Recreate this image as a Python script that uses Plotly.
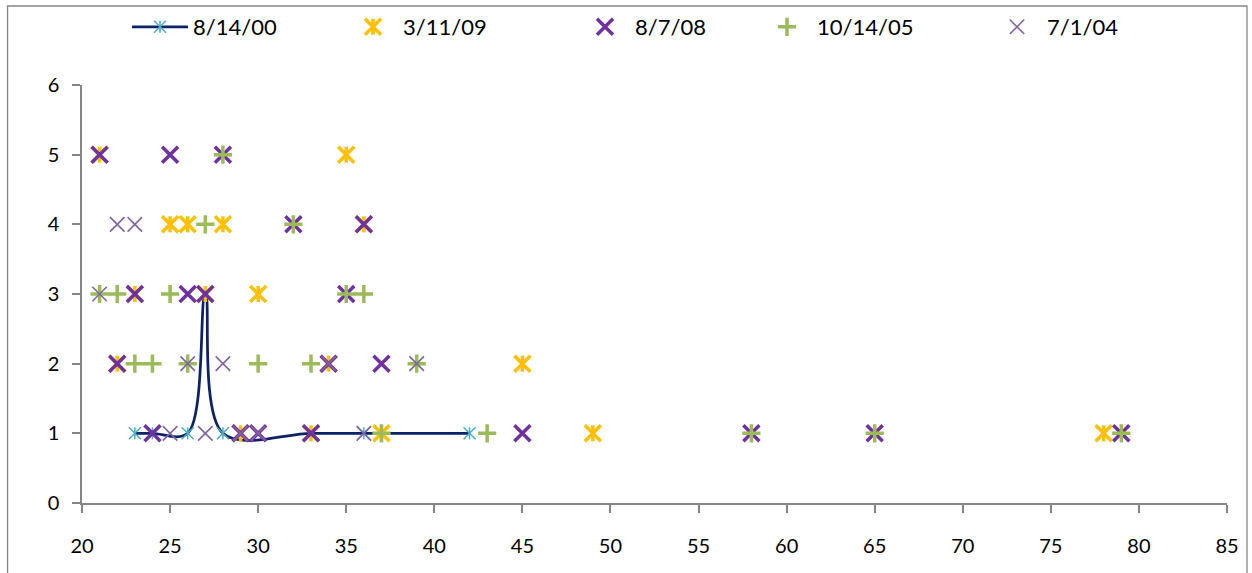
import plotly.graph_objects as go

# ---- data: (age, count) pairs per survey date ----
s1_name = "8/14/00"
s1_x = [23, 24, 26, 27, 28, 33, 36, 42]
s1_y = [1, 1, 1, 3, 1, 1, 1, 1]

s2_name = "3/11/09"
s2_x = [29, 33, 37, 49, 78, 22, 34, 45, 23, 27, 30, 25, 26, 28, 36, 21, 35]
s2_y = [1, 1, 1, 1, 1, 2, 2, 2, 3, 3, 3, 4, 4, 4, 4, 5, 5]

s3_name = "8/7/08"
s3_x = [24, 29, 30, 33, 45, 58, 65, 79, 22, 34, 37, 23, 26, 27, 35, 32, 36, 21, 25, 28]
s3_y = [1, 1, 1, 1, 1, 1, 1, 1, 2, 2, 2, 3, 3, 3, 3, 4, 4, 5, 5, 5]

s4_name = "10/14/05"
s4_x = [37, 43, 58, 65, 79, 23, 24, 26, 30, 33, 39, 21, 22, 25, 35, 36, 27, 32, 28]
s4_y = [1, 1, 1, 1, 1, 2, 2, 2, 2, 2, 2, 3, 3, 3, 3, 3, 4, 4, 5]

s5_name = "7/1/04"
s5_x = [25, 27, 29, 30, 36, 26, 28, 34, 39, 21, 22, 23]
s5_y = [1, 1, 1, 1, 1, 2, 2, 2, 2, 3, 4, 4]

x_ticks = list(range(20, 90, 5))
y_ticks = list(range(0, 7))

NAVY = "#0B2366"
CYAN = "#4BACC6"
GOLD = "#FFC000"
PURPLE = "#7030A0"
GREEN = "#9BBB59"
LILAC = "#8064A2"
AXIS = "#868686"
FONT = "Lato, Arial, sans-serif"

# plot-area geometry (pixels) used to place the legends and frame
W, H = 1252, 573
L, R, T, B = 81.5, 1227.0, 85.0, 503.0


def px_x(px):
    return (px - L) / (R - L)


def px_y(py):
    return (B - py) / (B - T)


def open_marker(symbol, size, color, width):
    return dict(symbol=symbol, size=size, color=color,
                line=dict(color=color, width=width))


# star = x plus a vertical bar; line-ns is 1.4x taller than x-thin at equal size
def star_bar(size):
    return size / 1.4


fig = go.Figure()

# 8/14/00: smoothed line, star markers
fig.add_trace(go.Scatter(
    x=s1_x, y=s1_y, name=s1_name, mode="lines+markers",
    line=dict(color=NAVY, width=2.75, shape="spline", smoothing=1.0),
    marker=open_marker("x-thin-open", 12, CYAN, 1.5),
    legend="legend",
))
fig.add_trace(go.Scatter(
    x=s1_x, y=s1_y, name=" ", mode="markers",
    marker=open_marker("line-ns-open", star_bar(12), CYAN, 1.5),
    legend="legend6",
))

# 3/11/09: bold star markers
fig.add_trace(go.Scatter(
    x=s2_x, y=s2_y, name=s2_name, mode="markers",
    marker=open_marker("x-thin-open", 16, GOLD, 3.5),
    legend="legend2",
))
fig.add_trace(go.Scatter(
    x=s2_x, y=s2_y, name=" ", mode="markers",
    marker=open_marker("line-ns-open", star_bar(16), GOLD, 3.5),
    legend="legend7",
))

# 8/7/08: bold x markers
fig.add_trace(go.Scatter(
    x=s3_x, y=s3_y, name=s3_name, mode="markers",
    marker=open_marker("x-thin-open", 16, PURPLE, 3.5),
    legend="legend3",
))

# 10/14/05: plus markers
fig.add_trace(go.Scatter(
    x=s4_x, y=s4_y, name=s4_name, mode="markers",
    marker=open_marker("cross-thin-open", 13, GREEN, 3.5),
    legend="legend4",
))

# 7/1/04: thin x markers
fig.add_trace(go.Scatter(
    x=s5_x, y=s5_y, name=s5_name, mode="markers",
    marker=open_marker("x-thin-open", 14.5, LILAC, 1.6),
    legend="legend5",
))

legend_font = dict(family=FONT, size=22, color="#000000")


def legend_at(px_left, itemwidth=50):
    return dict(
        x=px_left / W, y=1 - 27 / H, xref="container", yref="container",
        xanchor="left", yanchor="middle",
        orientation="h", bgcolor="rgba(0,0,0,0)", borderwidth=0,
        font=legend_font, itemwidth=itemwidth, itemclick=False,
        itemdoubleclick=False,
    )


fig.update_layout(
    width=W, height=H,
    margin=dict(l=L, r=W - R, t=T, b=H - B, pad=0, autoexpand=False),
    paper_bgcolor="#FFFFFF", plot_bgcolor="#FFFFFF",
    font=dict(family=FONT, size=20, color="#000000"),
    showlegend=True,
    legend=legend_at(127, itemwidth=56),
    legend2=legend_at(343),
    legend3=legend_at(575),
    legend4=legend_at(757),
    legend5=legend_at(987),
    legend6=legend_at(127, itemwidth=56),
    legend7=legend_at(343),
    xaxis=dict(
        range=[20, 85], tickmode="array", tickvals=x_ticks,
        showgrid=False, zeroline=False, showline=True,
        linecolor=AXIS, linewidth=1.5, ticks="outside", ticklen=8,
        tickcolor=AXIS, tickwidth=1.5, ticklabelstandoff=16,
        tickfont=dict(family=FONT, size=20, color="#000000"),
    ),
    yaxis=dict(
        range=[0, 6], tickmode="array", tickvals=y_ticks,
        showgrid=False, zeroline=False, showline=True,
        linecolor=AXIS, linewidth=1.5, ticks="outside", ticklen=8,
        tickcolor=AXIS, tickwidth=1.5, ticklabelstandoff=9,
        tickfont=dict(family=FONT, size=20, color="#000000"),
    ),
    shapes=[dict(
        type="rect", xref="paper", yref="paper",
        x0=px_x(7), x1=px_x(1247), y0=px_y(590), y1=px_y(6),
        line=dict(color=AXIS, width=1.3), fillcolor="rgba(0,0,0,0)",
        layer="below",
    )],
)

fig.write_html("out.html")
